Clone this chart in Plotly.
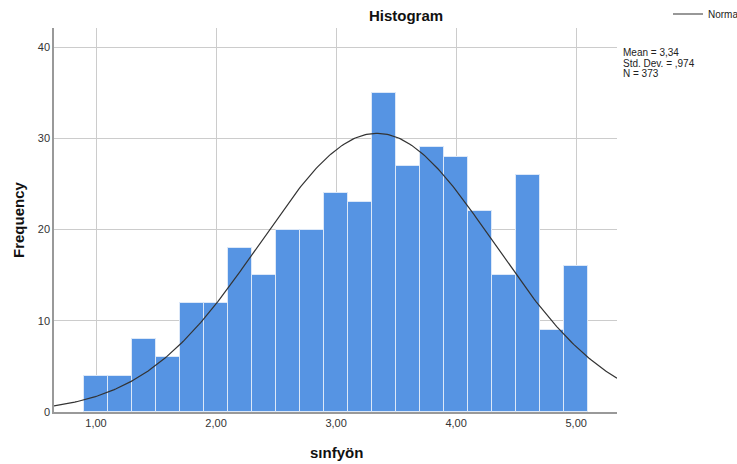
import numpy as np
import plotly.graph_objects as go

bin_starts = [0.9, 1.1, 1.3, 1.5, 1.7, 1.9, 2.1, 2.3, 2.5, 2.7, 2.9, 3.1, 3.3, 3.5, 3.7, 3.9, 4.1, 4.3, 4.5, 4.7, 4.9]
counts = [4, 4, 8, 6, 12, 12, 18, 15, 20, 20, 24, 23, 35, 27, 29, 28, 22, 15, 26, 9, 16]
bin_width = 0.2
mean = 3.34
std_dev = 0.974
n_obs = 373
x_ticks = [1, 2, 3, 4, 5]
x_tick_labels = ["1,00", "2,00", "3,00", "4,00", "5,00"]
y_ticks = [0, 10, 20, 30, 40]
stats = ["Mean = 3,34", "Std. Dev. = ,974", "N = 373"]

W, H = 737, 464
L, R, T, B = 54, 120, 28, 52
PW, PH = W - L - R, H - T - B


def px(x):
    return (x - L) / PW


def py(y):
    return (H - B - y) / PH


centers = [s + bin_width / 2 for s in bin_starts]
xr = (0.65, 5.34)
xc = np.linspace(xr[0], xr[1], 300)
yc = n_obs * bin_width / (std_dev * np.sqrt(2 * np.pi)) * np.exp(-0.5 * ((xc - mean) / std_dev) ** 2)

fig = go.Figure()
fig.add_trace(go.Bar(
    x=centers, y=counts, width=bin_width,
    marker=dict(color="#5694E3", line=dict(color="#DCE8F8", width=1)),
    showlegend=False, hoverinfo="x+y",
))
fig.add_trace(go.Scatter(
    x=xc, y=yc, mode="lines", line=dict(color="#333333", width=1.2),
    name="Normal", showlegend=True,
))

font_main = "Liberation Sans, Arial, sans-serif"
font_narrow = "Liberation Sans Narrow, Arial Narrow, " + font_main
fig.update_layout(
    width=W, height=H,
    margin=dict(l=L, r=R, t=T, b=B, autoexpand=False),
    paper_bgcolor="white", plot_bgcolor="white",
    bargap=0,
    font=dict(family=font_main, size=11, color="#222222"),
    title=dict(text="<b>Histogram</b>", x=406 / W, xanchor="center", y=1 - 16 / H, yanchor="middle",
               font=dict(size=15, family=font_main, color="#111111"), automargin=False),
    legend=dict(x=px(668), y=py(14), xanchor="left", yanchor="middle",
                font=dict(size=10, family=font_narrow, color="#222222"),
                bgcolor="rgba(0,0,0,0)", itemwidth=30, tracegroupgap=0, borderwidth=0),
    xaxis=dict(range=list(xr), tickvals=x_ticks, ticktext=x_tick_labels,
               showgrid=True, gridcolor="#CCCCCC", gridwidth=1,
               showline=True, linecolor="#999999", linewidth=1.5,
               ticks="", zeroline=False, tickfont=dict(size=11, color="#333333"),
               automargin=False),
    yaxis=dict(range=[0, 42.1], tickvals=y_ticks,
               showgrid=True, gridcolor="#CCCCCC", gridwidth=1,
               showline=True, linecolor="#999999", linewidth=1.5,
               ticks="", zeroline=False, tickfont=dict(size=11, color="#333333"),
               automargin=False),
)
fig.add_annotation(text="<b>sınfyön</b>", xref="paper", yref="paper", x=px(336), y=py(452),
                   xanchor="center", yanchor="middle", showarrow=False,
                   font=dict(size=15, family=font_main, color="#111111"))
fig.add_annotation(text="<b>Frequency</b>", xref="paper", yref="paper", x=px(18), y=py(220),
                   xanchor="center", yanchor="middle", showarrow=False, textangle=-90,
                   font=dict(size=15, family=font_main, color="#111111"))
for i, s in enumerate(stats):
    fig.add_annotation(text=s, xref="paper", yref="paper", x=px(621), y=py(52 + 11 * i),
                       xanchor="left", yanchor="middle", showarrow=False,
                       font=dict(size=10, family=font_narrow, color="#222222"))

fig.write_html("out.html", config={"displayModeBar": False},
               post_script="document.body.style.margin='0';")
